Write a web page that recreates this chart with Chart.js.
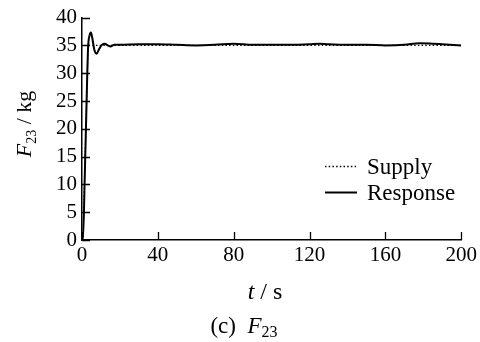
<!DOCTYPE html>
<html>
<head>
<meta charset="utf-8">
<script src="https://cdn.jsdelivr.net/npm/chart.js@4"></script>
<style>
  html, body { margin: 0; padding: 0; background: #fff; }
  canvas { display: block; }
</style>
</head>
<body>
<canvas id="graficoF23" width="480" height="342"></canvas>
<script>
// ===============================
// DATOS
// ===============================
const tiempoRespuesta = [0, 0.5, 1.5, 2.5, 3.2, 4, 4.7, 5.5, 6.5, 7.7, 9, 10.5, 12, 13.5, 15, 17, 20, 30, 40, 50, 60, 70, 80, 90, 100, 110, 120, 125, 130, 140, 150, 160, 170, 178, 185, 190, 200];
const fuerzaRespuesta = [0, 0, 12, 26, 34.5, 36.8, 37.3, 36.2, 34.2, 33.5, 34.3, 35.1, 35.3, 35.0, 34.8, 35.1, 35.1, 35.2, 35.2, 35.1, 35.0, 35.1, 35.3, 35.1, 35.1, 35.1, 35.2, 35.3, 35.2, 35.1, 35.1, 35.0, 35.1, 35.4, 35.3, 35.2, 35.0];

const tiempoSuministro = [0, 0.5, 3.2, 20, 60, 100, 140, 180, 200];
const fuerzaSuministro = [0, 0, 35, 35, 35, 35, 35, 35, 35];

const ticksX = [0, 40, 80, 120, 160, 200];
const ticksY = [0, 5, 10, 15, 20, 25, 30, 35, 40];

const serif = "'Liberation Serif', 'DejaVu Serif', serif";

function puntos(xs, ys) {
  return xs.map((x, i) => ({ x: x, y: ys[i] }));
}

// ===============================
// TICKS HACIA ADENTRO, TITULOS Y LEYENDA
// ===============================
const decoracion = {
  id: "decoracion",
  afterDraw(chart) {
    const ctx = chart.ctx;
    const area = chart.chartArea;
    const sx = chart.scales.x;
    const sy = chart.scales.y;

    ctx.save();
    ctx.strokeStyle = "#000";
    ctx.lineWidth = 1.3;
    ctx.beginPath();
    ticksX.forEach(v => {
      const px = Math.round(sx.getPixelForValue(v)) + 0.5;
      ctx.moveTo(px, area.bottom);
      ctx.lineTo(px, area.bottom - 8);
    });
    ticksY.forEach(v => {
      const py = Math.round(sy.getPixelForValue(v)) + 0.5;
      ctx.moveTo(area.left, py);
      ctx.lineTo(area.left + 8, py);
    });
    ctx.stroke();

    ctx.fillStyle = "#000";
    ctx.textBaseline = "alphabetic";

    // titulo eje Y: F23 / kg
    ctx.save();
    ctx.translate(31, 124);
    ctx.rotate(-Math.PI / 2);
    const fGrande = "italic 22px " + serif;
    const fSub = "14px " + serif;
    const fNormal = "22px " + serif;
    ctx.font = fGrande; const w1 = ctx.measureText("F").width;
    ctx.font = fSub; const w2 = ctx.measureText("23").width;
    ctx.font = fNormal; const w3 = ctx.measureText(" / kg").width;
    let x0 = -(w1 + w2 + w3) / 2;
    ctx.font = fGrande; ctx.fillText("F", x0, 0);
    ctx.font = fSub; ctx.fillText("23", x0 + w1, 5);
    ctx.font = fNormal; ctx.fillText(" / kg", x0 + w1 + w2, 0);
    ctx.restore();

    // titulo eje X: t / s
    ctx.font = "italic 24px " + serif;
    const wt = ctx.measureText("t").width;
    ctx.font = "24px " + serif;
    const ws = ctx.measureText(" / s").width;
    let xt = 265 - (wt + ws) / 2;
    ctx.font = "italic 24px " + serif;
    ctx.fillText("t", xt, 299);
    ctx.font = "24px " + serif;
    ctx.fillText(" / s", xt + wt, 299);

    // pie: (c)  F23
    ctx.font = "23px " + serif;
    const wc = ctx.measureText("(c)  ").width;
    ctx.font = "italic 23px " + serif;
    const wf = ctx.measureText("F").width;
    ctx.font = "16px " + serif;
    const wn = ctx.measureText("23").width;
    let xc = 244 - (wc + wf + wn) / 2;
    ctx.font = "23px " + serif;
    ctx.fillText("(c)  ", xc, 333);
    ctx.font = "italic 23px " + serif;
    ctx.fillText("F", xc + wc, 333);
    ctx.font = "16px " + serif;
    ctx.fillText("23", xc + wc + wf, 337);

    // leyenda
    ctx.lineWidth = 1.3;
    ctx.setLineDash([1.5, 2.2]);
    ctx.beginPath();
    ctx.moveTo(325, 166.5);
    ctx.lineTo(357, 166.5);
    ctx.stroke();
    ctx.setLineDash([]);
    ctx.lineWidth = 2;
    ctx.beginPath();
    ctx.moveTo(325, 192.5);
    ctx.lineTo(357, 192.5);
    ctx.stroke();
    ctx.font = "23px " + serif;
    ctx.fillText("Supply", 367, 174);
    ctx.fillText("Response", 367, 200);

    ctx.restore();
  }
};

// ===============================
// GRAFICO
// ===============================
new Chart(document.getElementById("graficoF23"), {
  type: "line",
  data: {
    datasets: [
      {
        label: "Supply",
        data: puntos(tiempoSuministro, fuerzaSuministro),
        borderColor: "#000",
        borderWidth: 1.2,
        borderDash: [1.5, 2.2],
        pointRadius: 0,
        tension: 0
      },
      {
        label: "Response",
        data: puntos(tiempoRespuesta, fuerzaRespuesta),
        borderColor: "#000",
        borderWidth: 2,
        pointRadius: 0,
        cubicInterpolationMode: "monotone"
      }
    ]
  },
  options: {
    responsive: false,
    animation: false,
    events: [],
    layout: { padding: { top: 15, right: 14, left: 0, bottom: 0 } },
    plugins: {
      legend: { display: false },
      tooltip: { enabled: false }
    },
    scales: {
      x: {
        type: "linear",
        min: 0,
        max: 200,
        afterFit: s => { s.height = 102; },
        afterBuildTicks: s => { s.ticks = ticksX.map(v => ({ value: v })); },
        grid: { drawOnChartArea: false, drawTicks: false },
        border: { color: "#000", width: 1.5 },
        ticks: { color: "#000", padding: 3, maxRotation: 0, autoSkip: false, font: { family: serif, size: 21 } }
      },
      y: {
        type: "linear",
        min: 0,
        max: 40,
        afterFit: s => { s.width = 82; },
        afterBuildTicks: s => { s.ticks = ticksY.map(v => ({ value: v })); },
        grid: { drawOnChartArea: false, drawTicks: false },
        border: { color: "#000", width: 1.5 },
        ticks: { color: "#000", padding: 5, autoSkip: false, font: { family: serif, size: 21 } }
      }
    }
  },
  plugins: [decoracion]
});
</script>
</body>
</html>
